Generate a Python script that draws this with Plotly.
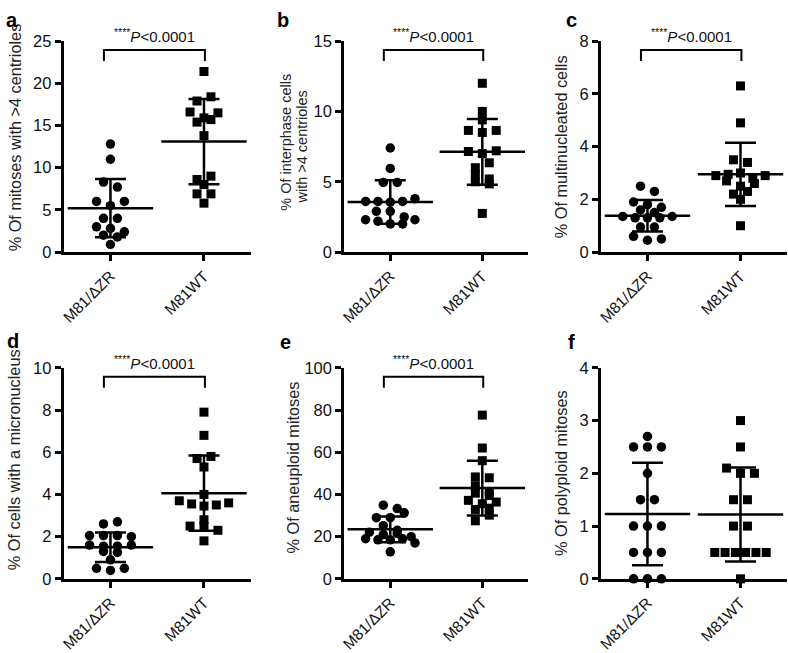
import plotly.graph_objects as go

# ---------------- data ----------------
groups = ["M81/ΔZR", "M81WT"]

a_dzr = [12.8, 11.0, 8.3, 7.7, 6.0, 5.5, 6.0, 4.0, 4.0, 3.0, 2.8, 2.4, 2.0, 1.8, 0.9]
a_wt = [21.4, 17.9, 18.4, 16.6, 15.9, 16.5, 15.4, 15.7, 13.8, 8.6, 9.0, 8.0, 6.9, 6.9, 5.8]
a_mean = [5.2, 13.1]
a_sd = [3.45, 5.05]

b_dzr = [7.4, 5.95, 4.95, 4.95, 3.6, 3.6, 3.55, 3.6, 3.8, 2.9, 2.9, 2.3, 2.2, 2.0, 2.0, 2.3, 2.5]
b_wt = [12.0, 10.0, 9.4, 8.65, 8.5, 8.65, 7.15, 7.0, 7.2, 6.0, 6.35, 5.5, 5.2, 5.0, 4.85, 2.75]
b_mean = [3.56, 7.13]
b_sd = [1.55, 2.34]

c_dzr = [2.5, 2.3, 1.9, 1.8, 1.7, 1.6, 1.5, 1.35, 1.3, 1.3, 1.3, 1.35, 0.95, 0.95, 0.6, 0.45, 0.5]
c_wt = [6.3, 4.9, 3.5, 3.4, 2.9, 2.95, 3.0, 2.8, 2.9, 2.7, 2.5, 2.6, 2.2, 2.3, 2.0, 1.0]
c_mean = [1.38, 2.95]
c_sd = [0.6, 1.2]

d_dzr = [2.6, 2.7, 2.05, 2.05, 2.05, 2.0, 1.6, 1.55, 1.55, 1.6, 1.3, 1.25, 0.9, 0.5, 0.4, 0.5]
d_wt = [7.9, 6.8, 5.7, 5.8, 5.3, 4.0, 3.7, 3.55, 3.45, 3.5, 3.6, 2.8, 2.5, 2.5, 2.3, 1.8]
d_mean = [1.5, 4.06]
d_sd = [0.7, 1.78]

e_dzr = [34.9, 33.3, 29.0, 29.0, 31.3, 25.2, 22.1, 23.0, 21.0, 21.5, 19.0, 18.5, 18.5, 19.0, 20.0, 17.0, 12.8]
e_wt = [77.6, 62.0, 56.0, 48.3, 47.9, 44.1, 41.3, 40.6, 39.5, 37.2, 35.6, 36.4, 32.9, 33.5, 27.5, 30.2]
e_mean = [23.5, 43.0]
e_sd = [6.1, 13.0]

f_dzr = [2.7, 2.5, 2.5, 2.5, 2.0, 1.5, 1.5, 1.0, 1.0, 1.0, 0.5, 0.5, 0.5, 0.0, 0.0, 0.0]
f_wt = [3.0, 2.5, 2.1, 2.0, 2.0, 1.5, 1.5, 1.0, 1.0, 0.5, 0.5, 0.5, 0.5, 0.5, 0.5, 0.0]
f_mean = [1.23, 1.22]
f_sd = [0.97, 0.89]

y_max = [25, 15, 8, 10, 100, 4]
y_dtick = [5, 5, 2, 2, 20, 1]
letters = ["a", "b", "c", "d", "e", "f"]
y_titles = [
    ["% Of mitoses with >4 centrioles"],
    ["% Of interphase cells", "with >4 centrioles"],
    ["% Of multinucleated cells"],
    ["% Of cells with a micronucleus"],
    ["% Of aneuploid mitoses"],
    ["% Of polyploid mitoses"],
]
significant = [True, True, True, True, True, False]
p_label = "<sup>****</sup><i>P</i>&lt;0.0001"

# ---------------- layout geometry ----------------
W, H = 788, 653
FONT = "Liberation Sans, Arial, Helvetica, sans-serif"
cols_px = [(60, 248), (342, 527), (600, 787)]
rows_px = [(33, 250), (369, 586)]

panel_data = [
    (a_dzr, a_wt, a_mean, a_sd),
    (b_dzr, b_wt, b_mean, b_sd),
    (c_dzr, c_wt, c_mean, c_sd),
    (d_dzr, d_wt, d_mean, d_sd),
    (e_dzr, e_wt, e_mean, e_sd),
    (f_dzr, f_wt, f_mean, f_sd),
]

title_pos = [  # centre (px) of each y-title line
    [(11, 132)],
    [(284, 137), (300, 142)],
    [(560, 142)],
    [(10, 463)],
    [(290, 472)],
    [(560, 477)],
]
title_size = [16.3, 14.5, 16.3, 16.3, 16.3, 16.3]
letter_pos = [(0, 20), (272, 20), (563, 20), (1, 350), (275, 351), (565, 351)]


def swarm(values, center, px_x, px_y, thr=6.5, slot=14.0, width=62.0):
    """Prism-like scatter arrangement: points grouped in rows by value, rows centred."""
    n = len(values)
    order = sorted(range(n), key=lambda i: -values[i])
    rows = []
    for i in order:
        if rows and (values[rows[-1][0]] - values[i]) * px_y < thr:
            rows[-1].append(i)
        else:
            rows.append([i])
    xs = [0.0] * n
    for row in rows:
        row = sorted(row)
        m = len(row)
        sp = min(slot, width / m)
        for k, i in enumerate(row):
            xs[i] = center + (k - (m - 1) / 2.0) * sp / px_x
    return xs


fig = go.Figure()
layout = dict(
    width=W, height=H, margin=dict(l=0, r=0, t=0, b=0),
    paper_bgcolor="white", plot_bgcolor="white", showlegend=False,
    font=dict(family=FONT, color="#111"),
)
shapes = []
annotations = []

for p in range(6):
    r, c = divmod(p, 3)
    x0, x1 = cols_px[c]
    y0, y1 = rows_px[r]
    xd = [x0 / W, x1 / W]
    yd = [1 - y1 / H, 1 - y0 / H]
    sfx = "" if p == 0 else str(p + 1)
    xa, ya = "x" + sfx, "y" + sfx
    px_x = (x1 - x0) / 2.0
    px_y = (y1 - y0) / y_max[p]

    dzr, wt, means, sds = panel_data[p]
    for gi, (vals, sym, sz) in enumerate([(dzr, "circle", 9.5), (wt, "square", 9)]):
        xs = swarm(vals, gi, px_x, px_y)
        fig.add_trace(go.Scatter(
            x=xs, y=vals, mode="markers", xaxis=xa, yaxis=ya, cliponaxis=False,
            marker=dict(symbol=sym, size=sz, color="black", line=dict(width=0)),
            hoverinfo="y"))
    # mean line + SD bars
    fig.add_trace(go.Scatter(
        x=[0, 1], y=means, mode="markers", xaxis=xa, yaxis=ya, cliponaxis=False,
        marker=dict(symbol="line-ew", size=61, color="black",
                    line=dict(width=2.5, color="black")),
        error_y=dict(type="data", array=sds, visible=True, width=15.5,
                     thickness=2.5, color="black"),
        hoverinfo="y"))

    layout["xaxis" + sfx] = dict(
        domain=xd, anchor=ya, range=[-0.5, 1.5], tickvals=[0, 1], ticktext=groups,
        tickangle=-45, showline=True, linecolor="black", linewidth=3,
        ticks="outside", ticklen=6, tickwidth=2.5, tickcolor="black",
        showgrid=False, zeroline=False, fixedrange=True,
        tickfont=dict(size=15.5, family=FONT, color="#111"))
    layout["yaxis" + sfx] = dict(
        domain=yd, anchor=xa, range=[0, y_max[p]], dtick=y_dtick[p], tick0=0,
        showline=True, linecolor="black", linewidth=3,
        ticks="outside", ticklen=6, tickwidth=2.5, tickcolor="black",
        showgrid=False, zeroline=False, fixedrange=True,
        tickfont=dict(size=16.5, family=FONT, color="#111"))

    # y titles
    for (tx, ty), line in zip(title_pos[p], y_titles[p]):
        annotations.append(dict(
            text=line, x=tx / W, y=1 - ty / H, xref="paper", yref="paper",
            xanchor="center", yanchor="middle", textangle=-90, showarrow=False,
            font=dict(size=title_size[p], family=FONT, color="#222")))
    # panel letters
    lx, ly = letter_pos[p]
    annotations.append(dict(
        text="<b>%s</b>" % letters[p], x=lx / W, y=1 - (ly + 5) / H,
        xref="paper", yref="paper", xanchor="left", yanchor="bottom",
        showarrow=False, font=dict(size=20, family=FONT, color="black")))
    # significance bracket
    if significant[p]:
        top = y_max[p] * 0.958
        bot = y_max[p] * 0.906
        shapes.append(dict(
            type="path", xref=xa, yref=ya,
            path="M-0.07,%f L-0.07,%f L1.01,%f L1.01,%f" % (bot, top, top, bot),
            line=dict(color="black", width=2)))
        annotations.append(dict(
            text=p_label, x=0.47, y=y_max[p], xref=xa, yref=ya,
            xanchor="center", yanchor="bottom", yshift=-6, showarrow=False,
            font=dict(size=15, family=FONT, color="#111")))

layout["shapes"] = shapes
layout["annotations"] = annotations
fig.update_layout(**layout)
fig.write_html("out.html", config={"displayModeBar": False},
               post_script="document.body.style.margin='0';document.body.style.overflow='hidden';")
